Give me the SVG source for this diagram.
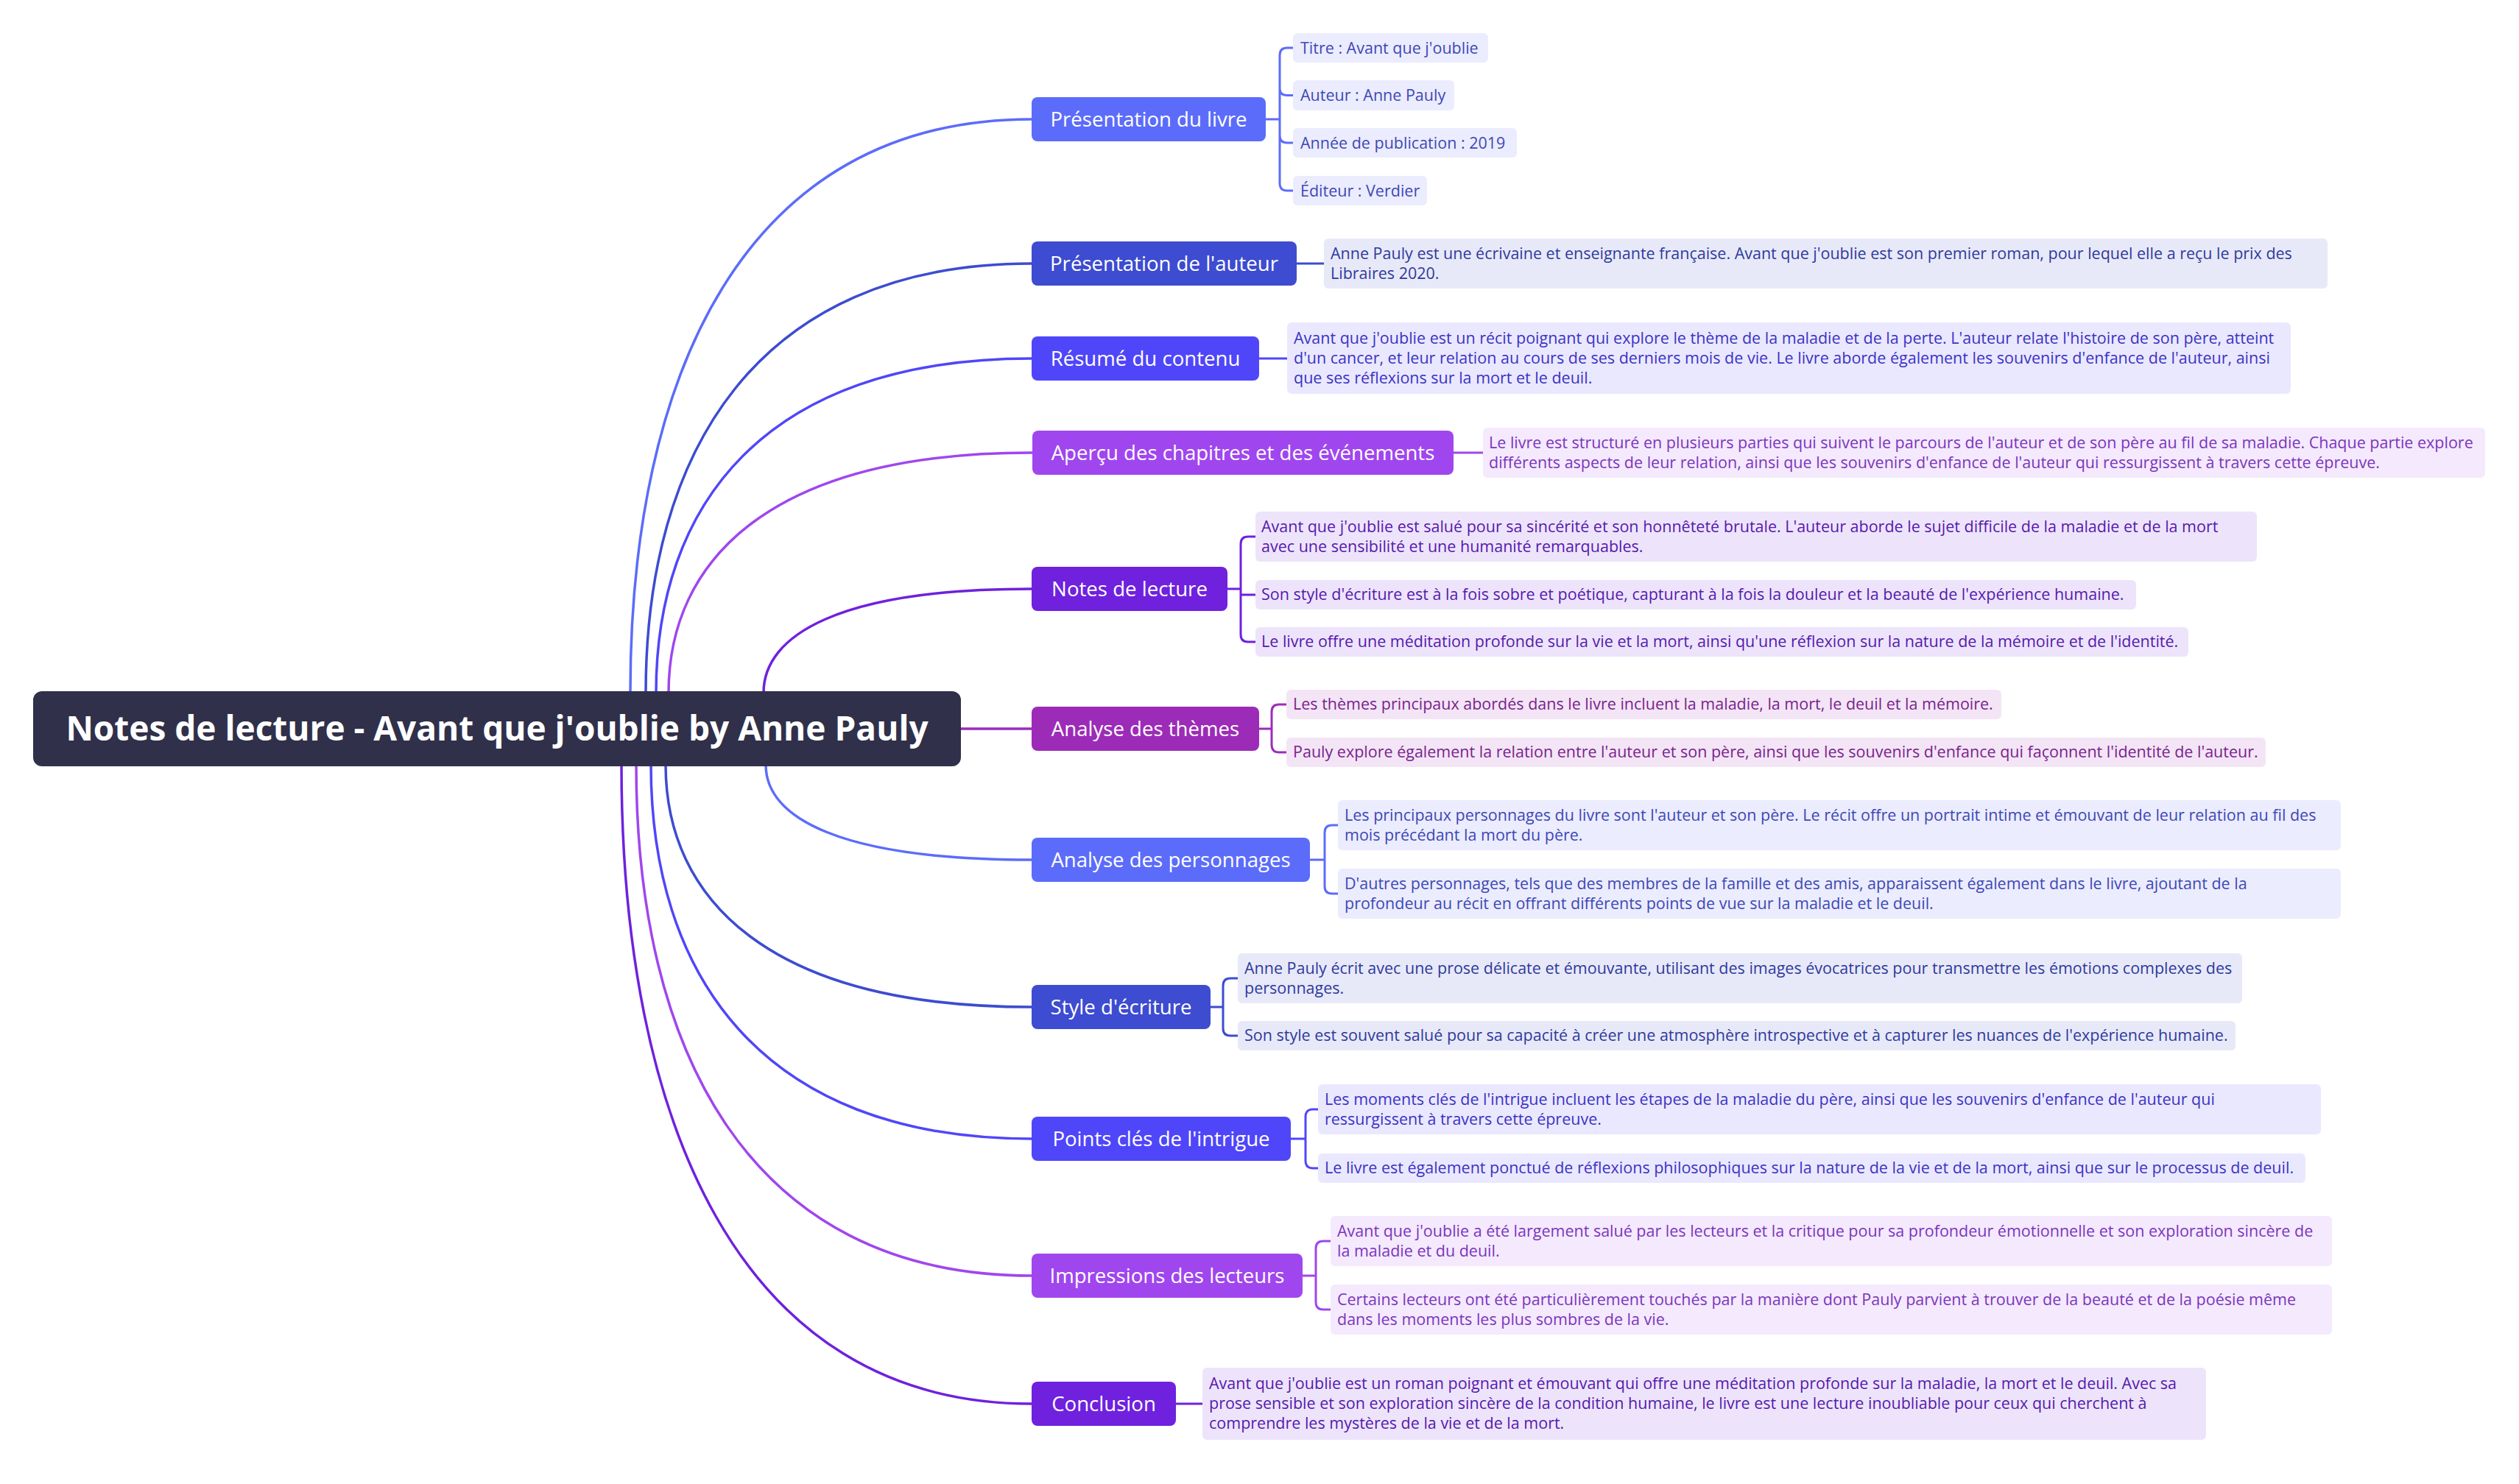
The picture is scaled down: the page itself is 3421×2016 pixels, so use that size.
<svg xmlns="http://www.w3.org/2000/svg" width="3421" height="2016" viewBox="0 0 3421 2016">
<style>
text{font-family:"Open Sans","Noto Sans","Liberation Sans",sans-serif}
.rt{font-size:46px;font-weight:700;fill:#fff;text-anchor:middle}
.l1 text{font-size:27.6px;fill:#fff;text-anchor:middle}
.l2 text{font-size:21.5px}
.cn path{fill:none;stroke-width:3.5;stroke-linecap:round}
.br path{fill:none;stroke-width:3;stroke-linecap:round}
.k1{stroke:#5c6cfa}.k2{stroke:#3d4cd0}.k3{stroke:#5046f9}.k4{stroke:#a046ee}.k5{stroke:#6f21de}.k6{stroke:#9c2cb8}
.b1{fill:#5c6cfa}.b2{fill:#3d4cd0}.b3{fill:#5046f9}.b4{fill:#a046ee}.b5{fill:#6f21de}.b6{fill:#9c2cb8}
.f1{fill:#ebecfe}.f2{fill:#e8e9f8}.f3{fill:#eae8ff}.f4{fill:#f4e9fd}.f5{fill:#ede4fb}.f6{fill:#f3e5f5}
.t1{fill:#3e48b5}.t2{fill:#2e3a9e}.t3{fill:#3b33c4}.t4{fill:#7b35bd}.t5{fill:#5619ae}.t6{fill:#7a228f}
</style>
<rect width="3421" height="2016" fill="#fff"/>
<g id="connectors" class="cn">
<path class="k1" d="M856 941 C856 512 1009 162 1401 162"/>
<path class="k2" d="M877 941 C877 619 1024 358 1401 358"/>
<path class="k3" d="M891 941 C891 690 1034 487 1401 487"/>
<path class="k4" d="M908 941 C908 761 1046 615 1401 615"/>
<path class="k5" d="M1037 941 C1037 863 1139 800 1401 800"/>
<path class="k6" d="M1300 990 H1401"/>
<path class="k1" d="M1040 1039 C1040 1111 1141 1168 1401 1168"/>
<path class="k2" d="M904 1039 C904 1221 1043 1368 1401 1368"/>
<path class="k3" d="M884 1039 C884 1319 1029 1547 1401 1547"/>
<path class="k4" d="M864 1039 C864 1422 1014 1733 1401 1733"/>
<path class="k5" d="M844 1039 C844 1517 1000 1907 1401 1907"/>
<g class="br">
<path class="k1" d="M1719 162 H1738 M1756 65 H1748 Q1738 65 1738 75 V249 Q1738 259 1748 259 H1756 M1738 120 Q1738 129.5 1748 129.5 H1756 M1738 184 Q1738 194 1748 194 H1756"/>
<path class="k2" d="M1761 358 H1798"/>
<path class="k3" d="M1710 487 H1748"/>
<path class="k4" d="M1974 615 H2014"/>
<path class="k5" d="M1667 800 H1685 M1705 729 H1695 Q1685 729 1685 739 V862 Q1685 872 1695 872 H1705 M1685 808 H1705"/>
<path class="k6" d="M1710 990 H1727 M1747 957 H1737 Q1727 957 1727 967 V1012 Q1727 1022 1737 1022 H1747"/>
<path class="k1" d="M1779 1168 H1799 M1817 1121 H1809 Q1799 1121 1799 1131 V1204 Q1799 1214 1809 1214 H1817"/>
<path class="k2" d="M1644 1368 H1661 M1681 1329 H1671 Q1661 1329 1661 1339 V1397 Q1661 1407 1671 1407 H1681"/>
<path class="k3" d="M1753 1547 H1773 M1790 1507 H1783 Q1773 1507 1773 1517 V1577 Q1773 1587 1783 1587 H1790"/>
<path class="k4" d="M1769 1733 H1787 M1807 1686 H1797 Q1787 1686 1787 1696 V1769 Q1787 1779 1797 1779 H1807"/>
<path class="k5" d="M1597 1907 H1633"/>
</g>
</g>
<g id="root">
<rect x="45" y="939" width="1260" height="102" rx="12" fill="#30304b"/>
<text class="rt" x="675" y="1006">Notes de lecture - Avant que j'oublie by Anne Pauly</text>
</g>
<g id="n1" class="l1"><rect class="b1" x="1401" y="132" width="318" height="60" rx="8"/><text x="1560" y="171.5">Présentation du livre</text></g>
<g id="n2" class="l1"><rect class="b2" x="1401" y="328" width="360" height="60" rx="8"/><text x="1581" y="367.5">Présentation de l'auteur</text></g>
<g id="n3" class="l1"><rect class="b3" x="1401" y="457" width="309" height="60" rx="8"/><text x="1555.5" y="496.5">Résumé du contenu</text></g>
<g id="n4" class="l1"><rect class="b4" x="1402" y="585" width="572" height="60" rx="8"/><text x="1688" y="624.5">Aperçu des chapitres et des événements</text></g>
<g id="n5" class="l1"><rect class="b5" x="1401" y="770" width="266" height="60" rx="8"/><text x="1534" y="809.5">Notes de lecture</text></g>
<g id="n6" class="l1"><rect class="b6" x="1401" y="960" width="309" height="60" rx="8"/><text x="1555.5" y="999.5">Analyse des thèmes</text></g>
<g id="n7" class="l1"><rect class="b1" x="1401" y="1138" width="378" height="60" rx="8"/><text x="1590" y="1177.5">Analyse des personnages</text></g>
<g id="n8" class="l1"><rect class="b2" x="1401" y="1338" width="243" height="60" rx="8"/><text x="1522.5" y="1377.5">Style d'écriture</text></g>
<g id="n9" class="l1"><rect class="b3" x="1401" y="1517" width="352" height="60" rx="8"/><text x="1577" y="1556.5">Points clés de l'intrigue</text></g>
<g id="n10" class="l1"><rect class="b4" x="1401" y="1703" width="368" height="60" rx="8"/><text x="1585" y="1742.5">Impressions des lecteurs</text></g>
<g id="n11" class="l1"><rect class="b5" x="1401" y="1877" width="196" height="60" rx="8"/><text x="1499" y="1916.5">Conclusion</text></g>

<g id="n1a" class="l2"><rect class="f1" x="1756" y="45" width="265" height="40" rx="6"/><text class="t1" x="1766" y="72.5">Titre : Avant que j'oublie</text></g>
<g id="n1b" class="l2"><rect class="f1" x="1756" y="109" width="219" height="41" rx="6"/><text class="t1" x="1766" y="137">Auteur : Anne Pauly</text></g>
<g id="n1c" class="l2"><rect class="f1" x="1756" y="174" width="304" height="40" rx="6"/><text class="t1" x="1766" y="201.5">Année de publication : 2019</text></g>
<g id="n1d" class="l2"><rect class="f1" x="1756" y="239" width="182" height="40" rx="6"/><text class="t1" x="1766" y="266.5">Éditeur : Verdier</text></g>

<g id="n2a" class="l2"><rect class="f2" x="1798" y="324" width="1363" height="68" rx="6"/><text class="t2" x="1807"><tspan x="1807" y="351.5">Anne Pauly est une écrivaine et enseignante française. Avant que j'oublie est son premier roman, pour lequel elle a reçu le prix des</tspan><tspan x="1807" y="378.5">Libraires 2020.</tspan></text></g>

<g id="n3a" class="l2"><rect class="f3" x="1748" y="438" width="1363" height="97" rx="6"/><text class="t3"><tspan x="1757" y="466.5">Avant que j'oublie est un récit poignant qui explore le thème de la maladie et de la perte. L'auteur relate l'histoire de son père, atteint</tspan><tspan x="1757" y="493.5">d'un cancer, et leur relation au cours de ses derniers mois de vie. Le livre aborde également les souvenirs d'enfance de l'auteur, ainsi</tspan><tspan x="1757" y="520.5">que ses réflexions sur la mort et le deuil.</tspan></text></g>

<g id="n4a" class="l2"><rect class="f4" x="2014" y="581" width="1361" height="68" rx="6"/><text class="t4"><tspan x="2022" y="608.5">Le livre est structuré en plusieurs parties qui suivent le parcours de l'auteur et de son père au fil de sa maladie. Chaque partie explore</tspan><tspan x="2022" y="635.5">différents aspects de leur relation, ainsi que les souvenirs d'enfance de l'auteur qui ressurgissent à travers cette épreuve.</tspan></text></g>

<g id="n5a" class="l2"><rect class="f5" x="1705" y="695" width="1360" height="68" rx="6"/><text class="t5"><tspan x="1713" y="722.5">Avant que j'oublie est salué pour sa sincérité et son honnêteté brutale. L'auteur aborde le sujet difficile de la maladie et de la mort</tspan><tspan x="1713" y="749.5">avec une sensibilité et une humanité remarquables.</tspan></text></g>
<g id="n5b" class="l2"><rect class="f5" x="1705" y="788" width="1196" height="40" rx="6"/><text class="t5" x="1713" y="815">Son style d'écriture est à la fois sobre et poétique, capturant à la fois la douleur et la beauté de l'expérience humaine.</text></g>
<g id="n5c" class="l2"><rect class="f5" x="1705" y="852" width="1267" height="40" rx="6"/><text class="t5" x="1713" y="879">Le livre offre une méditation profonde sur la vie et la mort, ainsi qu'une réflexion sur la nature de la mémoire et de l'identité.</text></g>

<g id="n6a" class="l2"><rect class="f6" x="1747" y="937" width="971" height="40" rx="6"/><text class="t6" x="1756" y="964">Les thèmes principaux abordés dans le livre incluent la maladie, la mort, le deuil et la mémoire.</text></g>
<g id="n6b" class="l2"><rect class="f6" x="1747" y="1002" width="1330" height="40" rx="6"/><text class="t6" x="1756" y="1029">Pauly explore également la relation entre l'auteur et son père, ainsi que les souvenirs d'enfance qui façonnent l'identité de l'auteur.</text></g>

<g id="n7a" class="l2"><rect class="f1" x="1817" y="1087" width="1362" height="68" rx="6"/><text class="t1"><tspan x="1826" y="1114.5">Les principaux personnages du livre sont l'auteur et son père. Le récit offre un portrait intime et émouvant de leur relation au fil des</tspan><tspan x="1826" y="1141.5">mois précédant la mort du père.</tspan></text></g>
<g id="n7b" class="l2"><rect class="f1" x="1817" y="1180" width="1362" height="68" rx="6"/><text class="t1"><tspan x="1826" y="1207.5">D'autres personnages, tels que des membres de la famille et des amis, apparaissent également dans le livre, ajoutant de la</tspan><tspan x="1826" y="1234.5">profondeur au récit en offrant différents points de vue sur la maladie et le deuil.</tspan></text></g>

<g id="n8a" class="l2"><rect class="f2" x="1681" y="1295" width="1364" height="68" rx="6"/><text class="t2"><tspan x="1690" y="1322.5">Anne Pauly écrit avec une prose délicate et émouvante, utilisant des images évocatrices pour transmettre les émotions complexes des</tspan><tspan x="1690" y="1349.5">personnages.</tspan></text></g>
<g id="n8b" class="l2"><rect class="f2" x="1681" y="1387" width="1355" height="40" rx="6"/><text class="t2" x="1690" y="1414">Son style est souvent salué pour sa capacité à créer une atmosphère introspective et à capturer les nuances de l'expérience humaine.</text></g>

<g id="n9a" class="l2"><rect class="f3" x="1790" y="1473" width="1362" height="68" rx="6"/><text class="t3"><tspan x="1799" y="1500.5">Les moments clés de l'intrigue incluent les étapes de la maladie du père, ainsi que les souvenirs d'enfance de l'auteur qui</tspan><tspan x="1799" y="1527.5">ressurgissent à travers cette épreuve.</tspan></text></g>
<g id="n9b" class="l2"><rect class="f3" x="1790" y="1567" width="1341" height="40" rx="6"/><text class="t3" x="1799" y="1594">Le livre est également ponctué de réflexions philosophiques sur la nature de la vie et de la mort, ainsi que sur le processus de deuil.</text></g>

<g id="n10a" class="l2"><rect class="f4" x="1807" y="1652" width="1360" height="68" rx="6"/><text class="t4"><tspan x="1816" y="1679.5">Avant que j'oublie a été largement salué par les lecteurs et la critique pour sa profondeur émotionnelle et son exploration sincère de</tspan><tspan x="1816" y="1706.5">la maladie et du deuil.</tspan></text></g>
<g id="n10b" class="l2"><rect class="f4" x="1807" y="1745" width="1360" height="68" rx="6"/><text class="t4"><tspan x="1816" y="1772.5">Certains lecteurs ont été particulièrement touchés par la manière dont Pauly parvient à trouver de la beauté et de la poésie même</tspan><tspan x="1816" y="1799.5">dans les moments les plus sombres de la vie.</tspan></text></g>

<g id="n11a" class="l2"><rect class="f5" x="1633" y="1858" width="1363" height="98" rx="6"/><text class="t5"><tspan x="1642" y="1887">Avant que j'oublie est un roman poignant et émouvant qui offre une méditation profonde sur la maladie, la mort et le deuil. Avec sa</tspan><tspan x="1642" y="1914">prose sensible et son exploration sincère de la condition humaine, le livre est une lecture inoubliable pour ceux qui cherchent à</tspan><tspan x="1642" y="1941">comprendre les mystères de la vie et de la mort.</tspan></text></g>
</svg>
